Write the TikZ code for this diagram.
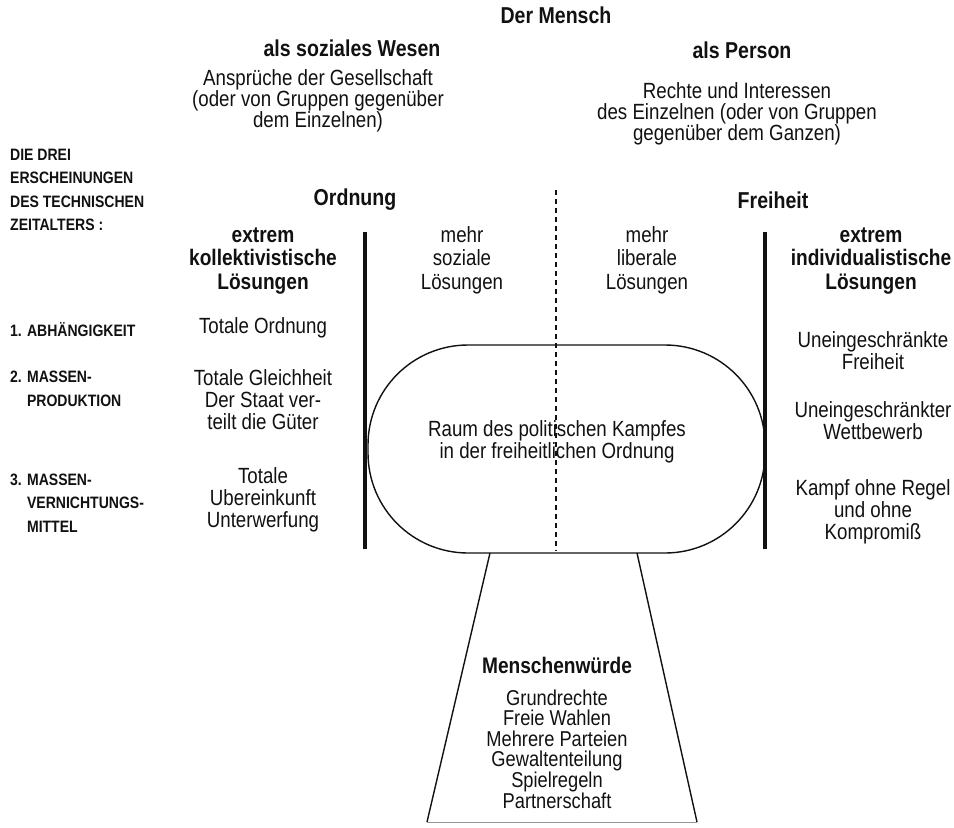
\documentclass[tikz,border=0pt]{standalone}
\usepackage{fontspec}
\setsansfont{Liberation Sans}[FakeStretch=0.85]
\usetikzlibrary{positioning}
\definecolor{ink}{HTML}{111111}

\begin{document}
\begin{tikzpicture}[x=1pt, y=-1pt,
    every node/.style={font=\sffamily\fontsize{22}{22}\selectfont, color=ink, align=center, inner sep=0pt},
    bigtitle/.style={font=\sffamily\bfseries\fontsize{23}{23.5}\selectfont},
    topblock/.style={font=\sffamily\fontsize{22}{21}\selectfont},
    colhead/.style={font=\sffamily\fontsize{22}{23.5}\selectfont},
    boldhead/.style={font=\sffamily\bfseries\fontsize{22.5}{23.5}\selectfont},
    capslabel/.style={font=\sffamily\bfseries\fontsize{16.5}{23.5}\selectfont, anchor=west, align=left},
    divider/.style={draw=ink, line width=3.5pt},
    midline/.style={draw=ink, line width=1.3pt, dash pattern=on 5pt off 4pt},
    outline/.style={draw=ink, line width=1.4pt},
]
\useasboundingbox (0,0) rectangle (954,828);

% title and the two sides of man
\node[bigtitle] (mensch) at (556,15) {Der Mensch};
\node[bigtitle] (sozial) at (352,48) {als soziales Wesen};
\node[bigtitle] (person) at (742,50) {als Person};
\node[topblock] (ansprueche) at (318,101) {Ansprüche der Gesellschaft\\(oder von Gruppen gegenüber\\dem Einzelnen)};
\node[topblock] (rechte) at (737,114) {Rechte und Interessen\\des Einzelnen (oder von Gruppen\\gegenüber dem Ganzen)};

% left margin
\node[capslabel] (drei) at (10,190) {DIE DREI\\ERSCHEINUNGEN\\DES TECHNISCHEN\\ZEITALTERS :};
\node[capslabel] (eins) at (10,330) {1. ABHÄNGIGKEIT};
\node[capslabel] (zwei) at (10,389) {2. MASSEN-\\\phantom{2. }PRODUKTION};
\node[capslabel] (drei2) at (10,503) {3. MASSEN-\\\phantom{3. }VERNICHTUNGS-\\\phantom{3. }MITTEL};

\node[bigtitle] (ordnung) at (355,200) {Ordnung};
\node[bigtitle] (freiheit) at (773,200) {Freiheit};

% column heads
\node[boldhead] (kollektiv) at (263,261) {extrem\\kollektivistische\\Lösungen};
\node[colhead] (sozialL) at (462,260) {mehr\\soziale\\Lösungen};
\node[colhead] (liberalL) at (647,260) {mehr\\liberale\\Lösungen};
\node[boldhead] (individual) at (871,261) {extrem\\individualistische\\Lösungen};

% dividers
\coordinate (ltop) at (365,232);
\coordinate (lbot) at (365,549);
\coordinate (rtop) at (765,232);
\coordinate (rbot) at (765,549);
\coordinate (mtop) at (556,190);
\coordinate (mbot) at (556,551);
\draw[divider] (ltop) -- (lbot);
\draw[divider] (rtop) -- (rbot);

% rows
\node (ordL) at (263,328) {Totale Ordnung};
\node (gleichL) at (263,400) {Totale Gleichheit\\Der Staat ver-\\teilt die Güter};
\node (unterL) at (263,500) {Totale\\Ubereinkunft\\Unterwerfung};
\node (freiR) at (873,351) {Uneingeschränkte\\Freiheit};
\node (wettR) at (873,421) {Uneingeschränkter\\Wettbewerb};
\node (kampfR) at (873,512) {Kampf ohne Regel\\und ohne\\Kompromiß};

% space of political struggle
\node[outline, rounded corners=100pt, minimum width=397pt, minimum height=208pt] (raum) at (566.5,449) {};
\draw[midline] (mtop) -- (mbot);
\node (raumtext) at (557,441.5) {Raum des politischen Kampfes\\in der freiheitlichen Ordnung};

% dignity of man
\coordinate (tl) at (490,553);
\coordinate (tr) at (637,553);
\coordinate (bl) at (427,822);
\coordinate (br) at (697,822);
\draw[outline] (tl) -- (bl);
\draw[outline] (tr) -- (br);
\draw[ink!45, line width=1pt] (bl) -- (br);
\node[boldhead] (wuerde) at (557,665) {Menschenwürde};
\node[font=\sffamily\fontsize{21.5}{20.6}\selectfont] (rechteL) at (557,749) {Grundrechte\\Freie Wahlen\\Mehrere Parteien\\Gewaltenteilung\\Spielregeln\\Partnerschaft};
\end{tikzpicture}
\end{document}
